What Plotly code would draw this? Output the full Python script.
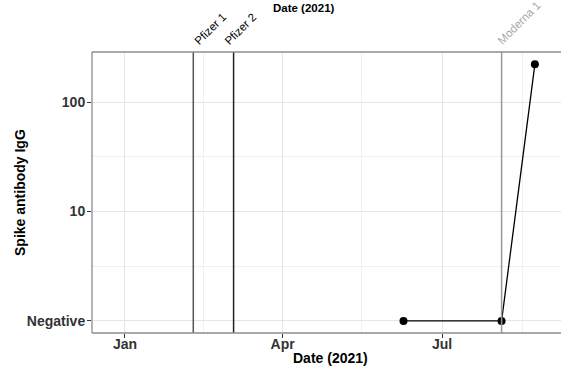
import plotly.graph_objects as go

# Data
sample_dates = ["2021-06-09", "2021-08-04", "2021-08-23"]
igg_values = [1, 1, 222]

vaccine_names = ["Pfizer 1", "Pfizer 2", "Moderna 1"]
vaccine_dates = ["2021-02-09", "2021-03-04", "2021-08-04"]
vaccine_line_colors = ["#555555", "#222222", "#999999"]
vaccine_label_colors = ["#000000", "#000000", "#a6a6a6"]
label_xshifts = [-4, -14, -9]

x_tick_vals = ["2021-01-01", "2021-04-01", "2021-07-01"]
x_tick_text = ["Jan", "Apr", "Jul"]
x_minor_vals = ["2020-11-15", "2021-02-15", "2021-05-16", "2021-08-16"]

y_tick_vals = [1, 10, 100]
y_tick_text = ["Negative", "10", "100"]
y_minor_vals = [10 ** 0.5, 10 ** 1.5]

FONT = "Liberation Sans, Arial, sans-serif"
W, H = 561, 366
L, R, T, B = 92, 0, 52, 33
PW, PH = W - L - R, H - T - B


def px_x(px):
    return (px - L) / PW


def px_y(py):
    return (H - B - py) / PH


fig = go.Figure()

fig.add_trace(go.Scatter(
    x=sample_dates, y=igg_values, mode="lines+markers",
    line=dict(color="black", width=1.3),
    marker=dict(color="black", size=8),
    showlegend=False, cliponaxis=False,
))

shapes = []
annotations = []
for name, d, lc, tc, xs in zip(vaccine_names, vaccine_dates, vaccine_line_colors,
                               vaccine_label_colors, label_xshifts):
    shapes.append(dict(type="line", xref="x", yref="paper", x0=d, x1=d, y0=0, y1=1,
                       line=dict(color=lc, width=1.5), layer="above"))
    annotations.append(dict(x=d, y=1, xref="x", yref="paper", text=name, showarrow=False,
                            textangle=-45, xanchor="left", yanchor="bottom",
                            xshift=xs, yshift=2,
                            font=dict(family=FONT, size=11.5, color=tc)))

# panel border (left, top, bottom)
for x0, y0, x1, y1 in [(0, 0, 0, 1), (0, 1, 1, 1), (0, 0, 1, 0)]:
    shapes.append(dict(type="line", xref="paper", yref="paper", x0=x0, y0=y0, x1=x1, y1=y1,
                       line=dict(color="#8c8c8c", width=1.3), layer="above"))

# titles
annotations.append(dict(x=px_x(304), y=px_y(8), xref="paper", yref="paper", text="Date (2021)",
                        showarrow=False, xanchor="center", yanchor="middle",
                        font=dict(family=FONT, size=11.5, color="black", weight="bold")))
annotations.append(dict(x=px_x(330), y=px_y(358), xref="paper", yref="paper", text="Date (2021)",
                        showarrow=False, xanchor="center", yanchor="middle",
                        font=dict(family=FONT, size=14, color="black", weight="bold")))
annotations.append(dict(x=px_x(20), y=px_y(193), xref="paper", yref="paper", text="Spike antibody IgG",
                        showarrow=False, xanchor="center", yanchor="middle", textangle=-90,
                        font=dict(family=FONT, size=14, color="black", weight="bold")))

fig.update_layout(
    width=W, height=H,
    margin=dict(l=L, r=R, t=T, b=B, autoexpand=False),
    paper_bgcolor="white", plot_bgcolor="white",
    font=dict(family=FONT),
    shapes=shapes, annotations=annotations,
    xaxis=dict(
        type="date", automargin=False,
        range=["2020-12-13 04:00", "2021-09-06 22:00"],
        tickvals=x_tick_vals, ticktext=x_tick_text,
        ticks="outside", ticklen=4, tickcolor="#333333",
        ticklabelstandoff=-6,
        tickfont=dict(family=FONT, size=14, color="#333333", weight="bold"),
        showgrid=True, gridcolor="#e5e5e5", gridwidth=1,
        minor=dict(tickvals=x_minor_vals, showgrid=True, gridcolor="#f0f0f0", gridwidth=1, ticks=""),
        zeroline=False, showline=False,
    ),
    yaxis=dict(
        type="log", automargin=False,
        range=[-0.11, 2.459],
        tickvals=y_tick_vals, ticktext=y_tick_text,
        ticks="outside", ticklen=4, tickcolor="#333333",
        ticklabelstandoff=-1,
        tickfont=dict(family=FONT, size=14, color="#333333", weight="bold"),
        showgrid=True, gridcolor="#e5e5e5", gridwidth=1,
        minor=dict(tickvals=y_minor_vals, showgrid=True, gridcolor="#f0f0f0", gridwidth=1, ticks=""),
        zeroline=False, showline=False,
    ),
)

fig.write_html(
    "out.html",
    config={"displayModeBar": False},
    post_script="document.body.style.margin='0';document.body.style.overflow='hidden';",
)
